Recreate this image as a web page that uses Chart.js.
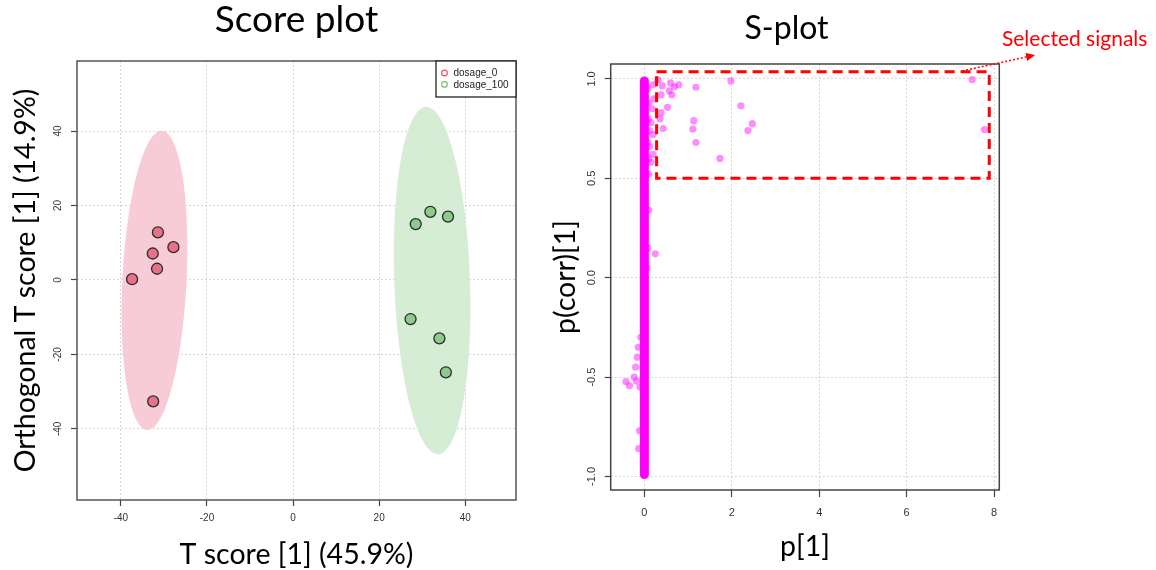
<!DOCTYPE html>
<html>
<head>
<meta charset="utf-8">
<script src="https://cdn.jsdelivr.net/npm/chart.js@4.4.1/dist/chart.umd.min.js"></script>
<style>
    html, body { margin: 0; padding: 0; background: #fff; }
    #wrap { position: relative; width: 1156px; height: 570px; overflow: hidden; }
    #scoreChart { position: absolute; left: 0; top: 0; }
    #sPlot { position: absolute; left: 540px; top: 0; }
</style>
</head>
<body>
<div id="wrap">
    <canvas id="scoreChart" width="540" height="570"></canvas>
    <canvas id="sPlot" width="616" height="570"></canvas>
</div>
<script>
// ---- Score plot data ----
const groupNames = ['dosage_0', 'dosage_100'];
const dose0T = [-31.4, -27.8, -32.6, -31.6, -37.4, -32.5];
const dose0O = [12.8, 8.8, 7.1, 3.0, 0.2, -32.6];
const dose100T = [31.9, 36.0, 28.5, 27.3, 34.0, 35.5];
const dose100O = [18.3, 17.0, 15.0, -10.5, -15.7, -24.8];
// confidence ellipses: centre, major half-axis and minor half-axis (data units)
const ellipse0 = { cx: -32.2, cy: -0.1, mx: 1.7, my: 40.2, nx: 7.45, ny: -0.3 };
const ellipse100 = { cx: 32.3, cy: -0.15, mx: -1.4, my: 46.65, nx: 8.8, ny: 0.25 };
const scoreXTicks = [-40, -20, 0, 20, 40];
const scoreYTicks = [-40, -20, 0, 20, 40];

// ---- S-plot data ----
// the dense column of variables sitting on p[1] = 0
const bandP = [0, 0];
const bandCorr = [-0.99, 0.99];
// variables standing out from the column
const sigP = [0.31, 0.41, 0.60, 0.69, 0.79, 0.57, 0.63, 0.38, 1.18, 1.98,
    2.21, 2.47, 2.37, 1.13, 1.11, 1.18, 1.73, 0.53, 0.38, 0.36,
    0.43, 7.50, 7.78,
    0.20, 0.22, 0.18, 0.15, 0.20, 0.12, 0.20, 0.15, 0.10, 0.10, 0.25, 0.08, 0.06,
    0.08, 0.10, 0.09, 0.12, 0.08, 0.10,
    -0.42, -0.34, -0.23, -0.20, -0.16, -0.14, -0.18, -0.10, -0.11, -0.13, -0.08];
const sigCorr = [0.995, 0.966, 0.98, 0.96, 0.97, 0.94, 0.92, 0.92, 0.958, 0.99,
    0.865, 0.775, 0.74, 0.79, 0.748, 0.68, 0.60, 0.857, 0.83, 0.80,
    0.75, 0.996, 0.745,
    0.97, 0.90, 0.85, 0.78, 0.72, 0.66, 0.62, 0.58, 0.52, 0.34, 0.12, 0.15, 0.05,
    0.95, 0.88, 0.80, 0.74, 0.68, 0.60,
    -0.523, -0.543, -0.50, -0.45, -0.40, -0.35, -0.52, -0.55, -0.77, -0.86, -0.30];
const selectP = [0.28, 7.89];
const selectCorr = [0.50, 1.036];
const sXTicks = [0, 2, 4, 6, 8];
const sYTicks = [-1, -0.5, 0, 0.5, 1];

const zip = (xs, ys) => xs.map((v, i) => ({ x: v, y: ys[i] }));
const tickFont = "'Liberation Sans', Arial, sans-serif";
const bigFont = "Lato, 'Open Sans', sans-serif";

// box round the plotting region, like R's box()
const frameBox = {
    id: 'frameBox',
    afterDatasetsDraw(chart, args, opts) {
        const { ctx, chartArea: a } = chart;
        ctx.save();
        ctx.strokeStyle = opts.color;
        ctx.lineWidth = opts.width;
        ctx.strokeRect(a.left, a.top, a.width, a.height);
        ctx.restore();
    }
};

// big panel heading
const panelTitle = {
    id: 'panelTitle',
    afterDraw(chart, args, opts) {
        const { ctx, chartArea: a } = chart;
        ctx.save();
        ctx.font = opts.font;
        ctx.fillStyle = '#000';
        ctx.textAlign = 'center';
        ctx.textBaseline = 'alphabetic';
        ctx.fillText(opts.text, (a.left + a.right) / 2 + opts.dx, opts.y);
        ctx.restore();
    }
};

// filled group ellipses, traced through the chart scales
const groupEllipses = {
    id: 'groupEllipses',
    beforeDatasetsDraw(chart, args, opts) {
        const { ctx, scales: { x, y } } = chart;
        ctx.save();
        opts.shapes.forEach((e, k) => {
            ctx.beginPath();
            for (let i = 0; i <= 120; i++) {
                const t = i / 120 * Math.PI * 2;
                const px = x.getPixelForValue(e.cx + e.mx * Math.cos(t) + e.nx * Math.sin(t));
                const py = y.getPixelForValue(e.cy + e.my * Math.cos(t) + e.ny * Math.sin(t));
                if (i === 0) ctx.moveTo(px, py); else ctx.lineTo(px, py);
            }
            ctx.closePath();
            ctx.fillStyle = opts.colors[k];
            ctx.fill();
        });
        ctx.restore();
    }
};

// R style legend box in the top right corner
const cornerLegend = {
    id: 'cornerLegend',
    afterDraw(chart, args, opts) {
        const { ctx, chartArea: a } = chart;
        const w = 80, h = 36;
        const left = a.right - w, top = a.top;
        ctx.save();
        ctx.fillStyle = '#fff';
        ctx.fillRect(left, top, w, h);
        ctx.strokeStyle = '#222';
        ctx.lineWidth = 1.3;
        ctx.strokeRect(left, top, w, h);
        ctx.font = '10px ' + tickFont;
        ctx.textBaseline = 'middle';
        chart.data.datasets.forEach((ds, i) => {
            const cy = top + 12 + i * 11.4;
            ctx.beginPath();
            ctx.arc(left + 8.5, cy, 2.8, 0, Math.PI * 2);
            ctx.strokeStyle = opts.colors[i];
            ctx.lineWidth = 1.2;
            ctx.stroke();
            ctx.fillStyle = '#222';
            ctx.fillText(ds.label, left + 17.5, cy + 0.5);
        });
        ctx.restore();
    }
};

// dashed selection rectangle and its callout
const selection = {
    id: 'selection',
    afterDatasetsDraw(chart, args, opts) {
        const { ctx, scales: { x, y } } = chart;
        const x0 = x.getPixelForValue(selectP[0]), x1 = x.getPixelForValue(selectP[1]);
        const y0 = y.getPixelForValue(selectCorr[1]), y1 = y.getPixelForValue(selectCorr[0]);
        ctx.save();
        ctx.strokeStyle = '#ff0000';
        ctx.lineWidth = 3;
        ctx.setLineDash([10, 6]);
        ctx.strokeRect(x0, y0, x1 - x0, y1 - y0);

        // dotted arrow towards the label
        const ax = x.getPixelForValue(7.27), ay = y.getPixelForValue(1.04);
        const bx = x.getPixelForValue(8.94), by = y.getPixelForValue(1.12);
        ctx.lineWidth = 1.5;
        ctx.setLineDash([2, 2]);
        ctx.beginPath();
        ctx.moveTo(ax, ay);
        ctx.lineTo(bx - 6, by + 1.3);
        ctx.stroke();
        ctx.setLineDash([]);
        const ang = Math.atan2(by - ay, bx - ax);
        ctx.fillStyle = '#ff0000';
        ctx.beginPath();
        ctx.moveTo(bx, by);
        ctx.lineTo(bx - 9 * Math.cos(ang) + 4 * Math.sin(ang), by - 9 * Math.sin(ang) - 4 * Math.cos(ang));
        ctx.lineTo(bx - 9 * Math.cos(ang) - 4 * Math.sin(ang), by - 9 * Math.sin(ang) + 4 * Math.cos(ang));
        ctx.closePath();
        ctx.fill();

        ctx.font = '21px ' + bigFont;
        ctx.textBaseline = 'alphabetic';
        ctx.fillText('Selected signals', x.getPixelForValue(8.18), y.getPixelForValue(1.165));
        ctx.restore();
    }
};

function axisOpts(ticks, min, max, tickSize, pad, title, titlePad, isY, boxSize, tickLen) {
    return {
        type: 'linear',
        min: min,
        max: max,
        afterBuildTicks: s => { s.ticks = ticks.map(v => ({ value: v })); },
        afterFit: s => { if (isY) s.width = boxSize; else s.height = boxSize; },
        border: { display: false, dash: [2, 2] },
        grid: {
            color: '#d6d6d6',
            lineWidth: 1,
            tickColor: '#444',
            tickLength: tickLen,
            tickBorderDash: [],
            tickWidth: 1.2
        },
        ticks: {
            color: '#333',
            font: { family: tickFont, size: tickSize },
            padding: pad,
            minRotation: isY ? 90 : 0,
            maxRotation: isY ? 90 : 0,
            crossAlign: isY ? 'center' : 'near',
            callback: v => (Number.isInteger(v) && max < 5 ? v.toFixed(1) : String(v))
        },
        title: {
            display: true,
            text: title,
            color: '#000',
            font: { family: bigFont, size: 28.5, lineHeight: 1 },
            padding: titlePad
        }
    };
}

const scoreCtx = document.getElementById('scoreChart');
new Chart(scoreCtx, {
    type: 'scatter',
    data: {
        datasets: [{
            label: groupNames[0],
            data: zip(dose0T, dose0O),
            backgroundColor: '#e8718a',
            borderColor: '#2b2b2b',
            borderWidth: 1.3,
            pointRadius: 5.5
        }, {
            label: groupNames[1],
            data: zip(dose100T, dose100O),
            backgroundColor: '#8ccb8c',
            borderColor: '#2b2b2b',
            borderWidth: 1.3,
            pointRadius: 5.5
        }]
    },
    options: {
        responsive: false,
        animation: false,
        layout: { padding: { top: 61, right: 24, left: 0, bottom: 0 } },
        plugins: {
            legend: { display: false },
            tooltip: { enabled: false },
            frameBox: { color: '#555', width: 1.5 },
            panelTitle: { text: 'Score plot', font: '37px ' + bigFont, dx: 0, y: 32 },
            groupEllipses: { shapes: [ellipse0, ellipse100], colors: ['#f8ccd7', '#d5edd5'] },
            cornerLegend: { colors: ['#e8506e', '#6cc46c'] }
        },
        scales: {
            x: axisOpts(scoreXTicks, -50.2, 51.8, 10, 6, 'T score [1] (45.9%)', { top: 0, bottom: 0.8 }, false, 70, 6),
            y: axisOpts(scoreYTicks, -59.1, 58.8, 10, 5.8, 'Orthogonal T score [1] (14.9%)', { top: 11.5, bottom: 0 }, true, 77, 6)
        }
    },
    plugins: [groupEllipses, frameBox, panelTitle, cornerLegend]
});

const sCtx = document.getElementById('sPlot');
new Chart(sCtx, {
    type: 'scatter',
    data: {
        datasets: [{
            label: 'column',
            data: zip(bandP, bandCorr),
            showLine: true,
            borderColor: '#ff00ff',
            borderWidth: 9,
            borderCapStyle: 'round',
            pointRadius: 0
        }, {
            label: 'signals',
            data: zip(sigP, sigCorr),
            backgroundColor: 'rgba(255, 0, 255, 0.45)',
            borderWidth: 0,
            pointRadius: 3.6
        }]
    },
    options: {
        responsive: false,
        animation: false,
        layout: { padding: { top: 64, right: 156.7, left: 0, bottom: 0 } },
        plugins: {
            legend: { display: false },
            tooltip: { enabled: false },
            frameBox: { color: '#444', width: 1.5 },
            panelTitle: { text: 'S-plot', font: '32px ' + bigFont, dx: -18.5, y: 39 }
        },
        scales: {
            x: axisOpts(sXTicks, -0.77, 8.12, 11, 9.5, 'p[1]', { top: 0, bottom: 8.8 }, false, 80, 7),
            y: axisOpts(sYTicks, -1.068, 1.075, 11, 3.5, 'p(corr)[1]', { top: 11.5, bottom: 0 }, true, 70.7, 6)
        }
    },
    plugins: [frameBox, panelTitle, selection]
});
</script>
</body>
</html>
